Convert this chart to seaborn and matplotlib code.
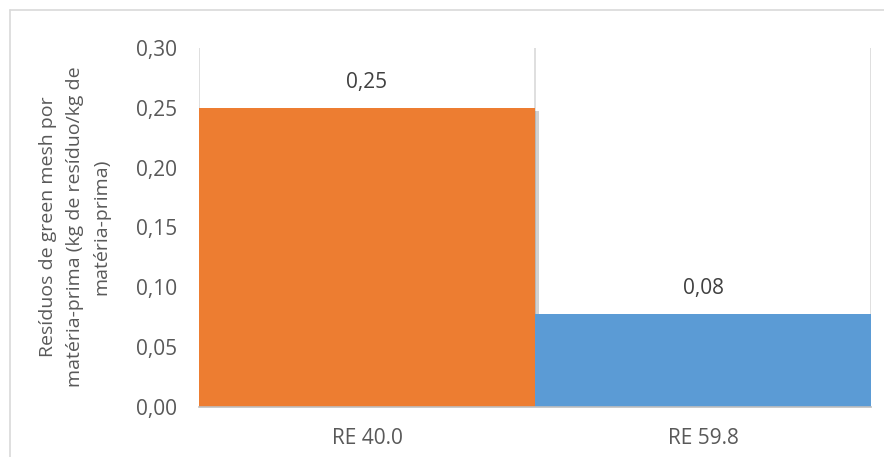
import matplotlib
matplotlib.use("Agg")
import matplotlib.pyplot as plt
import matplotlib.patheffects as pe
import seaborn as sns
import pandas as pd
from matplotlib.lines import Line2D

categories = ["RE 40.0", "RE 59.8"]
values = [0.25, 0.078]
colors = ["#ED7D31", "#5B9BD5"]
yticks = [0.00, 0.05, 0.10, 0.15, 0.20, 0.25, 0.30]
ylabel = "Resíduos de green mesh por\nmatéria-prima (kg de resíduo/kg de\nmatéria-prima)"

sns.set_theme(style="white")
plt.rcParams["font.family"] = ["Open Sans", "DejaVu Sans"]
text_color = "#595959"
grid_color = "#D9D9D9"

df = pd.DataFrame({"cat": categories, "val": values})

fig = plt.figure(figsize=(8.84, 4.57), dpi=100)
ax = fig.add_axes([199 / 884, 1 - 407 / 457, (871 - 199) / 884, (407 - 48) / 457])

sns.barplot(data=df, x="cat", y="val", hue="cat", palette=colors, width=1.0,
            legend=False, ax=ax, saturation=1, zorder=3)

# soft drop shadow on the bars
for p in ax.patches:
    p.set_linewidth(0)
    p.set_path_effects([pe.SimplePatchShadow(offset=(3, -2), shadow_rgbFace="#000000", alpha=0.18),
                        pe.Normal()])

ax.set_xlim(-0.5, 1.5)
ax.set_ylim(0, 0.30)
ax.set_yticks(yticks)
ax.set_yticklabels([f"{t:.2f}".replace(".", ",") for t in yticks])

# category boundary gridlines
for xb in [-0.5, 0.5, 1.5]:
    ax.axvline(xb, color=grid_color, lw=1.2, zorder=1)

for s in ["top", "right", "left"]:
    ax.spines[s].set_visible(False)
ax.spines["bottom"].set_color("#BFBFBF")
ax.spines["bottom"].set_linewidth(1.2)
ax.spines["bottom"].set_zorder(4)

ax.tick_params(axis="both", length=0, labelsize=15, colors=text_color)
ax.tick_params(axis="y", pad=16)
ax.tick_params(axis="x", pad=15)
ax.set_xlabel("")
ax.set_ylabel("")

fig.text(75 / 884, 1 - 227 / 457, ylabel, rotation=90, ha="center", va="center",
         fontsize=14, color=text_color, linespacing=1.62, multialignment="center")

for i, v in enumerate(values):
    ax.text(i, v + 0.021, f"{v:.2f}".replace(".", ","), ha="center", va="center",
            fontsize=15, color="#404040")

# chart area border
fig.add_artist(Line2D([10 / 884, 1], [1 - 10 / 457, 1 - 10 / 457],
                      transform=fig.transFigure, color=grid_color, lw=1.2))
fig.add_artist(Line2D([10 / 884, 10 / 884], [0, 1 - 10 / 457],
                      transform=fig.transFigure, color=grid_color, lw=1.2))

fig.savefig("out.png", dpi=100)
